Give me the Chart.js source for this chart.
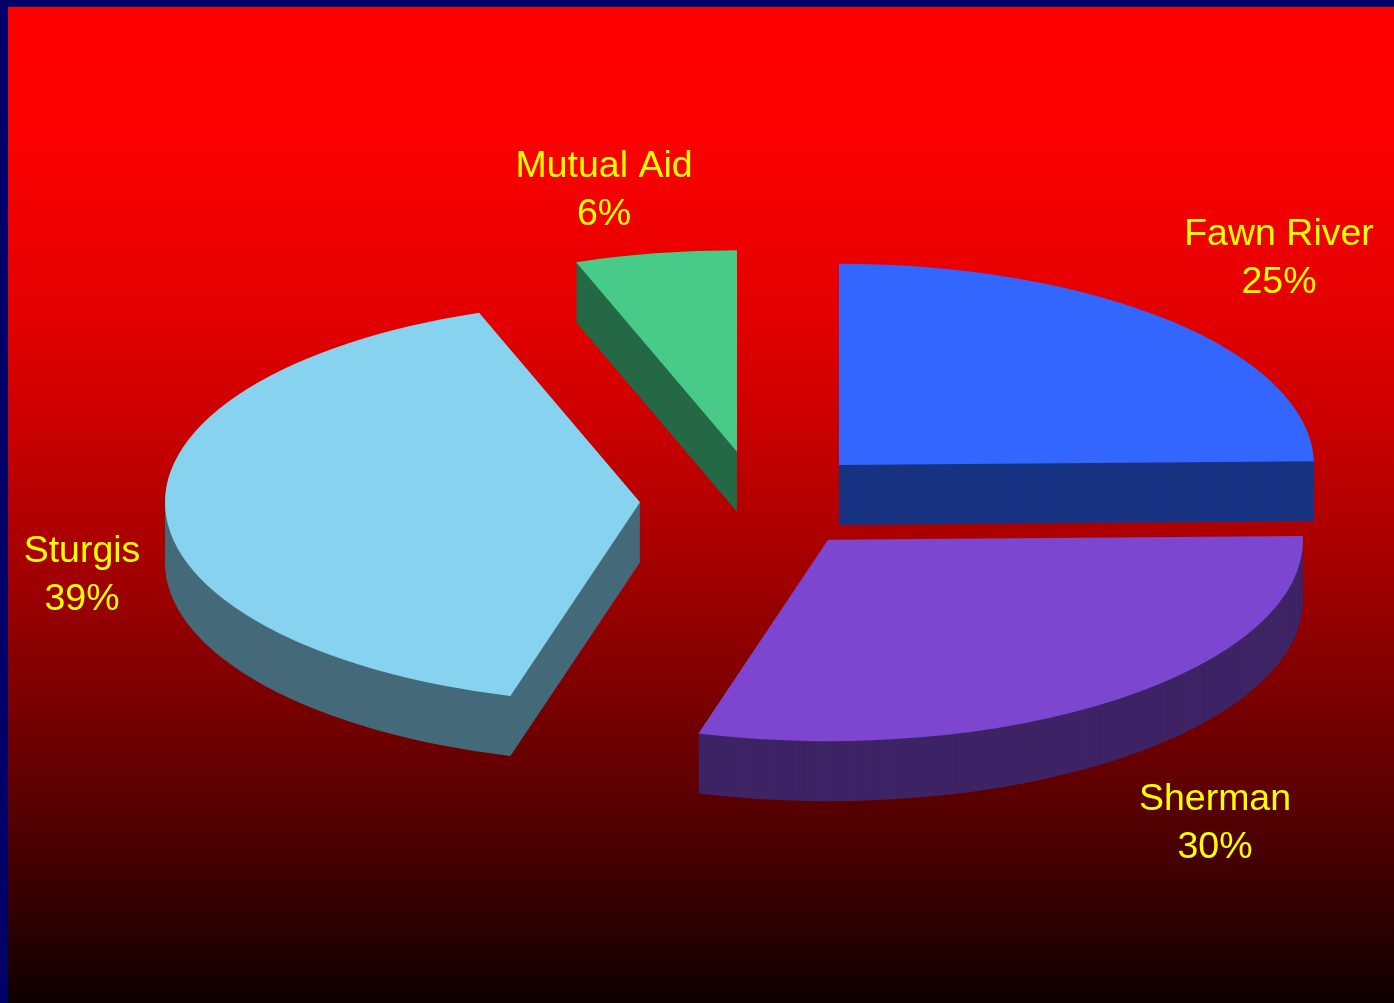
<!DOCTYPE html>
<html>
<head>
<meta charset="utf-8">
<style>
  html, body { margin: 0; padding: 0; background: #000066; overflow: hidden; }
  #pie { position: absolute; left: 0; top: 0; }
</style>
</head>
<body>
<canvas id="pie" width="1394" height="1003"></canvas>
<script src="https://cdn.jsdelivr.net/npm/chart.js@4"></script>
<script>
var categories = ['Fawn River', 'Sherman', 'Sturgis', 'Mutual Aid'];
var percentLabels = ['25%', '30%', '39%', '6%'];
var sliceShares = [24.7, 29.7, 40.1, 5.5];
var topColors = ['#3366ff', '#7c46d0', '#87d2ee', '#48ca88'];
var sideColors = ['#183382', '#3e2465', '#456a7a', '#246845'];

// look of the fake 3d pie
var squash = 0.424;
var depth = 60;
var explode = 117;
var labelSpots = [[1279, 245], [1215, 810], [82, 562], [604, 177]];

var pie3d = {
    id: 'pie3d',
    beforeDraw: function (chart) {
        var ctx = chart.ctx;
        var bg = ctx.createLinearGradient(0, 7, 0, 1003);
        // the red does not fade evenly, it stays bright for a long way
        bg.addColorStop(0, '#ff0000');
        bg.addColorStop(0.13, '#fb0000');
        bg.addColorStop(0.33, '#e00000');
        bg.addColorStop(0.43, '#c80000');
        bg.addColorStop(0.59, '#9c0000');
        bg.addColorStop(0.73, '#700000');
        bg.addColorStop(0.85, '#480000');
        bg.addColorStop(0.95, '#200000');
        bg.addColorStop(1, '#100000');
        ctx.fillStyle = '#000066';
        ctx.fillRect(0, 0, chart.width, chart.height);
        ctx.fillStyle = bg;
        ctx.fillRect(8, 7, chart.width - 8, chart.height - 7);
    },
    beforeDatasetDraw: function (chart) {
        var ctx = chart.ctx;
        var arcs = chart.getDatasetMeta(0).data;
        arcs.forEach(function (arc, i) {
            var mid = (arc.startAngle + arc.endAngle) / 2;
            var topOptions = arc.options;
            var drawAt = function (drop) {
                ctx.save();
                // whole pixels in x keep the upright slice edges crisp
                ctx.translate(Math.round(Math.cos(mid) * explode), arc.y + Math.sin(mid) * explode * squash + drop);
                ctx.scale(1, squash);
                ctx.translate(0, -arc.y);
                arc.draw(ctx);
                ctx.restore();
            };
            arc.options = Object.assign({}, topOptions, { backgroundColor: sideColors[i] });
            for (var d = depth; d > 0; d--) {
                drawAt(d);
            }
            arc.options = topOptions;
            drawAt(0);
        });
        return false;
    },
    afterDatasetsDraw: function (chart) {
        var ctx = chart.ctx;
        ctx.save();
        ctx.fillStyle = '#ffff00';
        ctx.font = '37.5px "Liberation Sans"';
        ctx.textAlign = 'center';
        ctx.textBaseline = 'alphabetic';
        categories.forEach(function (name, i) {
            ctx.fillText(name, labelSpots[i][0], labelSpots[i][1]);
            ctx.fillText(percentLabels[i], labelSpots[i][0], labelSpots[i][1] + 48);
        });
        ctx.restore();
    }
};

var chart = new Chart(document.getElementById('pie'), {
    type: 'pie',
    plugins: [pie3d],
    data: {
        labels: categories,
        datasets: [{
            data: sliceShares,
            backgroundColor: topColors,
            borderWidth: 0,
            radius: 475,
            clip: false
        }]
    },
    options: {
        responsive: false,
        animation: false,
        layout: { padding: { left: 120, bottom: 2 } },
        plugins: {
            legend: { display: false },
            tooltip: { enabled: false }
        }
    }
});
</script>
</body>
</html>
